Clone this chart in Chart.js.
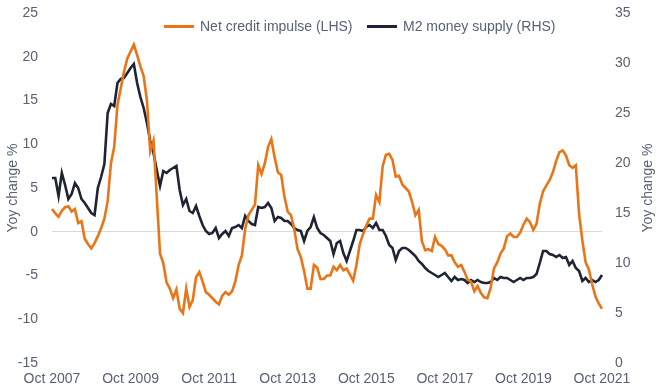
<!DOCTYPE html>
<html>
<head>
<meta charset="utf-8">
<script src="https://cdn.jsdelivr.net/npm/chart.js@4.4.1/dist/chart.umd.min.js"></script>
<style>
	body { margin: 0; background: #fff; }
	#wrap { position: relative; width: 660px; height: 392px; }
	.leg { position: absolute; top: 18px; font: 14px "Liberation Sans", Arial, sans-serif; color: #586274; white-space: nowrap; }
	.leg i { display: inline-block; width: 30px; height: 3px; vertical-align: middle; margin-right: 6px; position: relative; top: -1px; }
</style>
</head>
<body>
<div id="wrap">
	<canvas id="creditChart"></canvas>
	<div class="leg" style="left:164px"><i style="background:#ea7517"></i>Net credit impulse (LHS)</div>
	<div class="leg" style="left:367px"><i style="background:#1e2433"></i>M2 money supply (RHS)</div>
</div>
<script>
var startYear = 2007;
var startMonth = 9; // Oct
var monthNames = ['Jan','Feb','Mar','Apr','May','Jun','Jul','Aug','Sep','Oct','Nov','Dec'];
var tickLabels = ['Oct 2007', 'Oct 2009', 'Oct 2011', 'Oct 2013', 'Oct 2015', 'Oct 2017', 'Oct 2019', 'Oct 2021'];

// Net credit impulse, yoy %, left axis
var creditImpulse = [
	2.6, 2.1, 1.7, 2.4, 2.8, 2.9, 2.3, 2.6, 1.0, 1.2,
	-0.8, -1.4, -1.9, -1.3, -0.5, 0.4, 1.5, 3.5, 7.8, 9.7,
	14.5, 16.4, 18.3, 19.8, 20.6, 21.4, 20.2, 18.9, 17.8, 15.0,
	9.2, 10.4, 4.0, -2.5, -3.6, -5.8, -6.5, -7.6, -6.6, -8.8,
	-9.3, -6.5, -8.6, -7.8, -5.2, -4.6, -5.7, -6.9, -7.2, -7.6,
	-8.0, -8.3, -7.3, -6.9, -7.2, -6.8, -5.7, -3.8, -2.7, 0.3,
	1.9, 2.5, 3.1, 7.6, 6.6, 7.8, 9.7, 10.6, 8.5, 6.8,
	6.5, 4.0, 2.3, 1.9, 0.3, -2.0, -2.9, -4.5, -6.5, -6.5,
	-3.8, -4.1, -5.4, -5.4, -5.0, -5.0, -4.0, -4.4, -3.8, -4.4,
	-4.2, -4.9, -5.6, -3.8, -1.4, -0.3, 0.7, 1.5, 1.5, 4.2,
	3.4, 7.5, 8.8, 8.9, 8.2, 6.3, 6.4, 5.4, 5.0, 4.6,
	3.4, 1.9, 2.5, -1.1, -2.1, -2.0, -2.2, -0.6, -1.4, -1.6,
	-2.0, -2.7, -2.7, -3.5, -4.0, -3.8, -4.6, -5.5, -5.7, -6.8,
	-6.2, -7.0, -7.5, -7.6, -6.4, -4.2, -3.5, -2.5, -1.9, -0.5,
	-0.2, -0.6, -0.6, -0.1, 0.8, 1.5, 1.1, 0.2, 0.9, 3.2,
	4.6, 5.3, 5.9, 6.8, 8.1, 9.1, 9.3, 8.7, 7.6, 7.3,
	7.6, 2.0, -1.0, -3.5, -4.3, -6.0, -7.4, -8.2, -8.8
];

// M2 money supply, yoy %, right axis
var m2Supply = [
	18.5, 18.5, 16.7, 19.0, 17.8, 16.4, 16.9, 18.0, 17.5, 16.4,
	16.0, 15.5, 15.0, 14.8, 17.5, 18.6, 19.9, 25.0, 25.9, 25.7,
	28.0, 28.4, 28.5, 29.0, 29.5, 29.9, 28.0, 26.6, 25.5, 24.0,
	22.2, 21.0, 19.3, 17.7, 19.2, 19.0, 19.3, 19.5, 19.7, 17.3,
	15.8, 16.4, 15.2, 15.0, 15.7, 14.7, 13.8, 13.2, 12.9, 13.0,
	13.5, 12.5, 12.9, 13.2, 12.7, 13.5, 13.6, 13.8, 13.5, 14.7,
	14.2, 13.9, 13.8, 15.6, 15.5, 15.6, 16.0, 15.5, 14.2, 14.6,
	14.5, 14.2, 14.2, 13.9, 13.5, 13.3, 13.2, 12.2, 13.2, 13.6,
	14.6, 13.5, 13.0, 12.8, 12.5, 12.2, 10.9, 12.0, 12.2, 11.0,
	10.2, 11.2, 12.2, 13.3, 13.3, 13.2, 13.6, 13.8, 13.5, 14.0,
	13.3, 13.3, 12.7, 11.8, 11.5, 10.3, 11.2, 11.5, 11.5, 11.3,
	11.0, 10.7, 10.2, 9.9, 9.5, 9.2, 9.0, 8.8, 8.6, 8.8,
	9.0, 8.6, 8.2, 8.6, 8.3, 8.4, 8.3, 8.0, 8.3, 8.1,
	8.3, 8.1, 8.0, 8.0, 8.1, 8.5, 8.3, 8.6, 8.5, 8.5,
	8.3, 8.1, 8.3, 8.5, 8.3, 8.5, 8.5, 8.6, 8.9, 10.0,
	11.2, 11.2, 10.9, 10.8, 10.6, 10.8, 10.5, 10.6, 9.8, 10.2,
	9.5, 9.2, 8.2, 8.5, 8.1, 8.3, 8.1, 8.3, 8.8
];

var months = [];
for (var i = 0; i < creditImpulse.length; i++) {
	var m = startMonth + i;
	months.push(monthNames[m % 12] + ' ' + (startYear + Math.floor(m / 12)));
}

var textColor = '#586274';
var tickFont = { family: "'Liberation Sans', Arial, sans-serif", size: 14 };

// both axis titles read bottom-to-top, so draw them here
var axisTitles = {
	id: 'axisTitles',
	afterDraw: function(chart) {
		var ctx = chart.ctx;
		var mid = (chart.chartArea.top + chart.chartArea.bottom) / 2;
		ctx.save();
		ctx.font = "14px 'Liberation Sans', Arial, sans-serif";
		ctx.fillStyle = textColor;
		ctx.textAlign = 'center';
		ctx.textBaseline = 'middle';
		[13, 648].forEach(function(x) {
			ctx.save();
			ctx.translate(x, mid);
			ctx.rotate(-Math.PI / 2);
			ctx.fillText('Yoy change %', 0, 0);
			ctx.restore();
		});
		ctx.restore();
	}
};

function fitY(width) {
	return function(scale) {
		scale.width = width;
		scale.paddingTop = 0;
		scale.paddingBottom = 0;
	};
}

var ctx = document.getElementById('creditChart').getContext('2d');
var chart = new Chart(ctx, {
	type: 'line',
	data: {
		labels: months,
		datasets: [{
			label: 'Net credit impulse (LHS)',
			data: creditImpulse,
			borderColor: '#ea7517',
			borderWidth: 2.6,
			pointRadius: 0,
			yAxisID: 'yLeft'
		}, {
			label: 'M2 money supply (RHS)',
			data: m2Supply,
			borderColor: '#1e2433',
			borderWidth: 2.6,
			pointRadius: 0,
			yAxisID: 'yRight'
		}]
	},
	options: {
		responsive: true,
		maintainAspectRatio: false,
		animation: false,
		layout: { padding: { top: 13 } },
		plugins: {
			legend: { display: false },
			tooltip: { enabled: false }
		},
		scales: {
			x: {
				grid: { display: false, drawTicks: false },
				border: { display: false },
				ticks: {
					autoSkip: false,
					maxRotation: 0,
					padding: 8,
					color: textColor,
					font: tickFont,
					callback: function(val) {
						var l = this.getLabelForValue(val);
						return tickLabels.indexOf(l) >= 0 ? l : null;
					}
				},
				afterFit: function(scale) { scale.height = 29; }
			},
			yLeft: {
				position: 'left',
				min: -15,
				max: 25,
				border: { display: false },
				grid: {
					drawTicks: false,
					color: function(c) { return c.tick.value === 0 ? '#d9d9d9' : 'rgba(0,0,0,0)'; }
				},
				ticks: { stepSize: 5, padding: 14, color: textColor, font: tickFont },
				afterFit: fitY(52)
			},
			yRight: {
				position: 'right',
				min: 0,
				max: 35,
				border: { display: false },
				grid: { display: false, drawTicks: false },
				ticks: { stepSize: 5, padding: 13, color: textColor, font: tickFont },
				afterFit: fitY(58)
			}
		}
	},
	plugins: [axisTitles]
});
</script>
</body>
</html>
